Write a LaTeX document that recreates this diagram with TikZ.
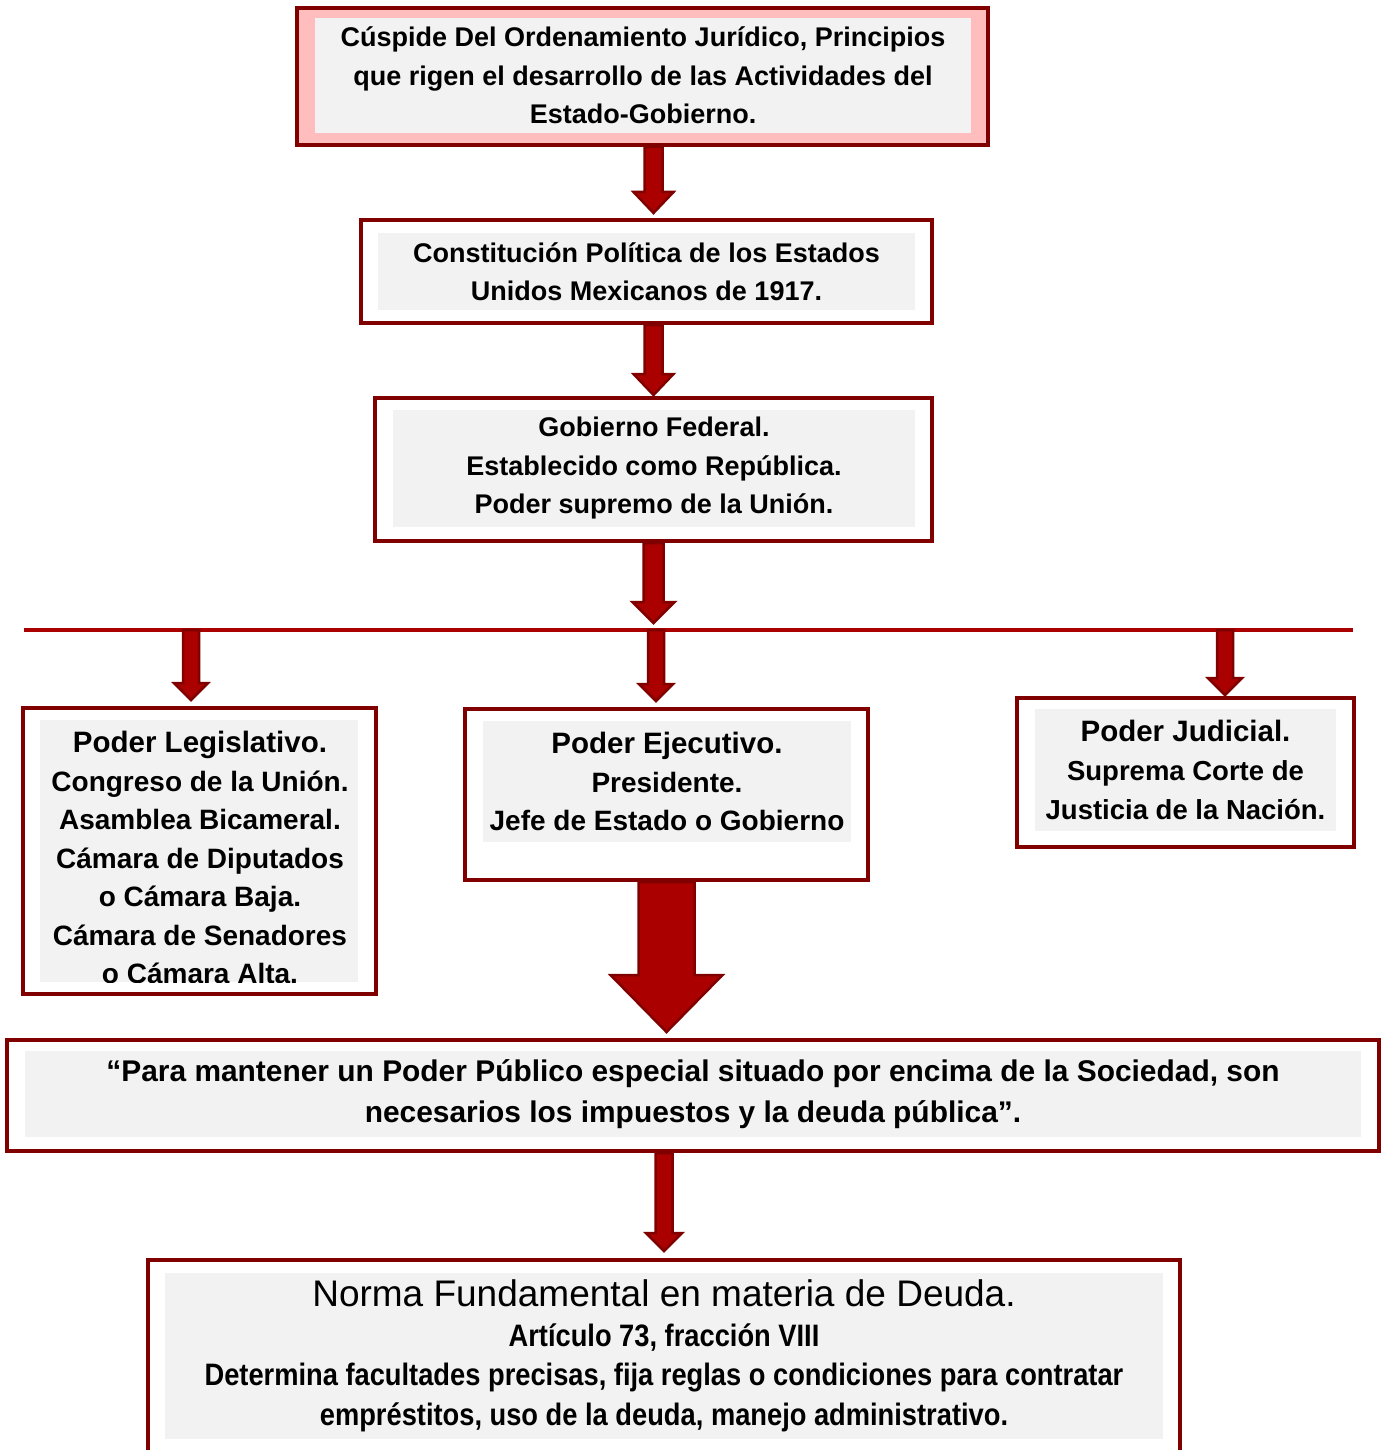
\documentclass[tikz,border=0pt]{standalone}
\usepackage{fontspec}
\setmainfont{Liberation Sans}
\newfontfamily\angosta[FakeStretch=0.88]{Liberation Sans}
\usetikzlibrary{calc}

\definecolor{rojooscuro}{RGB}{128,0,0}
\definecolor{rojo}{RGB}{170,0,0}
\definecolor{rosa}{RGB}{255,189,189}
\definecolor{grisclaro}{RGB}{242,242,242}

% flecha de bloque: inicio, fin, medio ancho, media punta, largo punta
\newcommand{\flechabloque}[5]{%
  \draw[flecha] let \p1=(#1), \p2=(#2) in
    (\x1-#3,\y1) -- (\x1-#3,\y2+#5) -- (\x1-#4,\y2+#5) -- (\x1,\y2)
    -- (\x1+#4,\y2+#5) -- (\x1+#3,\y2+#5) -- (\x1+#3,\y1) -- cycle;}

\begin{document}
\begin{tikzpicture}[x=1pt,y=-1pt,
    marco/.style={draw=rojooscuro, line width=4pt, fill=white, inner sep=0pt},
    fondo/.style={fill=grisclaro, inner sep=0pt},
    texto/.style={align=center, font=\fontsize{28}{38.5}\selectfont\bfseries},
    gris/.style={fondo, texto},
    chica/.style={font=\fontsize{27}{38.5}\selectfont\bfseries},
    flecha/.style={draw=rojooscuro, fill=rojo, line width=2.5pt},
    barra/.style={draw=rojo, line width=4pt}]

  \clip (0,0) rectangle (1387,1450);

  % Cuspide
  \node[marco, fill=rosa, minimum width=691, minimum height=137] (cuspide) at (642.5,76.5) {};
  \node[gris, chica, minimum width=656, minimum height=115] (cuspideT) at (643,75.5)
    {Cúspide Del Ordenamiento Jurídico, Principios\\que rigen el desarrollo de las Actividades del\\Estado-Gobierno.};

  % Constitucion
  \node[marco, minimum width=571, minimum height=103] (constitucion) at (646.5,271.5) {};
  \node[gris, chica, minimum width=537, minimum height=77] (constitucionT) at (646.5,271.5)
    {Constitución Política de los Estados\\Unidos Mexicanos de 1917.};

  % Gobierno federal
  \node[marco, minimum width=557, minimum height=143] (federal) at (653.5,469.5) {};
  \node[gris, chica, minimum width=522, minimum height=117] (federalT) at (654,468.5)
    {Gobierno Federal.\\Establecido como República.\\Poder supremo de la Unión.};

  % barra de los tres poderes
  \coordinate (barraIzq) at (24,630);
  \coordinate (barraDer) at (1353,630);
  \coordinate (ramaL) at (191,630);
  \coordinate (ramaE) at (656,630);
  \coordinate (ramaJ) at (1225,630);
  \draw[barra] (barraIzq) -- (barraDer);

  % Poder legislativo
  \node[marco, minimum width=353, minimum height=286] (legislativo) at (199.5,851) {};
  \node[fondo, minimum width=318, minimum height=262] (legisfondo) at (199,851) {};
  \begin{scope}
    \clip (legisfondo.north west) rectangle (legisfondo.south east);
    \node[texto] (legisT) at (200,857.5)
      {{\fontsize{29.5}{38.5}\selectfont Poder Legislativo.}\\Congreso de la Unión.\\Asamblea Bicameral.\\Cámara de Diputados\\o Cámara Baja.\\Cámara de Senadores\\o Cámara Alta.};
  \end{scope}

  % Poder ejecutivo
  \node[marco, minimum width=403, minimum height=171] (ejecutivo) at (666.5,794.5) {};
  \node[gris, minimum width=368, minimum height=121] (ejecutivoT) at (667,781.5)
    {{\fontsize{29.5}{38.5}\selectfont Poder Ejecutivo.}\\Presidente.\\Jefe de Estado o Gobierno};

  % Poder judicial
  \node[marco, minimum width=337, minimum height=149] (judicial) at (1185.5,772.5) {};
  \node[gris, font=\fontsize{27.5}{39}\selectfont\bfseries, minimum width=301, minimum height=122] (judicialT) at (1185.5,770)
    {{\fontsize{29.5}{39}\selectfont Poder Judicial.}\\Suprema Corte de\\Justicia de la Nación.};

  % Cita
  \node[marco, minimum width=1372, minimum height=111] (cita) at (693,1095.5) {};
  \node[gris, minimum width=1336, minimum height=86, font=\fontsize{29.9}{41}\selectfont\bfseries] (citaT) at (693,1094)
    {“Para mantener un Poder Público especial situado por encima de la Sociedad, son\\necesarios los impuestos y la deuda pública”.};

  % Norma fundamental
  \node[marco, minimum width=1032, minimum height=210] (norma) at (664,1365) {};
  \node[gris, minimum width=998, minimum height=166, font=\angosta\fontsize{31}{39.5}\selectfont\bfseries] (normaT) at (664,1356)
    {{\normalfont\fontsize{37}{43}\selectfont Norma Fundamental en materia de Deuda.}\\Artículo 73, fracción VIII\\Determina facultades precisas, fija reglas o condiciones para contratar\\empréstitos, uso de la deuda, manejo administrativo.};

  % flechas
  \flechabloque{cuspide.south -| federal.north}{$(constitucion.north)+(0,-5)$}{9pt}{20pt}{21pt}
  \flechabloque{constitucion.south -| federal.north}{$(federal.north)+(0,-1)$}{9pt}{20pt}{21pt}
  \flechabloque{federal.south}{$(ramaE)+(0,-7)$}{10pt}{21pt}{21pt}
  \flechabloque{ramaL}{$(legislativo.north)+(0,-6)$}{8pt}{17pt}{17pt}
  \flechabloque{ramaE}{$(ejecutivo.north)+(0,-6)$}{8pt}{17pt}{17pt}
  \flechabloque{ramaJ}{$(judicial.north)+(0,-1)$}{8pt}{17pt}{17pt}
  \flechabloque{ejecutivo.south}{$(cita.north)+(0,-6)$}{28pt}{56pt}{57pt}
  \flechabloque{cita.south -| norma.north}{$(norma.north)+(0,-7)$}{8.5pt}{18pt}{18pt}
\end{tikzpicture}
\end{document}
